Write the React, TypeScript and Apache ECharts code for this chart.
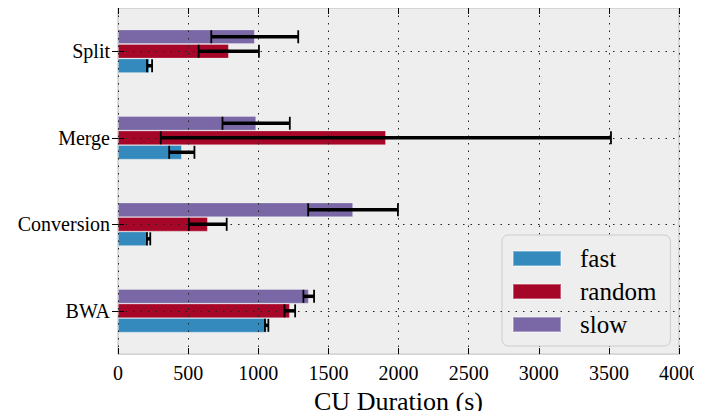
import React, { useEffect, useRef } from "react";
import * as echarts from "echarts";

const categories = ["BWA", "Conversion", "Merge", "Split"];
const seriesNames = ["fast", "random", "slow"];
const fastMean = [1060, 218, 455, 225];
const fastErr = [12, 12, 90, 18];
const randomMean = [1225, 640, 1910, 790];
const randomErr = [38, 135, 1605, 215];
const slowMean = [1360, 1676, 985, 975];
const slowErr = [38, 320, 240, 310];
const xTicks = [0, 500, 1000, 1500, 2000, 2500, 3000, 3500, 4000];

const colors = ["#348ABD", "#A60628", "#7A68A6"];
const FONT = "'Liberation Serif', 'Times New Roman', serif";
const BAR_W = 14.5;

export default function App() {
  const ref = useRef<HTMLDivElement>(null);
  useEffect(() => {
    if (!ref.current) return;
    const chart = echarts.init(ref.current, undefined, { renderer: "svg" });
    const means = [fastMean, randomMean, slowMean];
    const errs = [fastErr, randomErr, slowErr];

    // ECharts places the first bar series at the top of each band,
    // so add them in reverse order to put "fast" at the bottom.
    const barSeries = [2, 1, 0].map((s) => ({
      name: seriesNames[s],
      type: "bar",
      xAxisIndex: 0,
      yAxisIndex: 0,
      data: means[s],
      barWidth: BAR_W,
      barGap: "0%",
      itemStyle: { color: colors[s], borderColor: "rgba(255,255,255,0.35)", borderWidth: 0.8 },
      z: 2,
      ...(s === 1
        ? {
            markLine: {
              silent: true,
              symbol: "none",
              z: 5,
              label: { show: false },
              lineStyle: { color: "#222", width: 1, type: [1.5, 6] },
              data: categories.map((c) => ({ yAxis: c })),
            },
          }
        : {}),
    }));

    const errSeries = seriesNames.map((name, s) => ({
      name: name + "-err",
      type: "custom",
      xAxisIndex: 0,
      yAxisIndex: 0,
      z: 6,
      encode: { x: 1, y: 0 },
      data: categories.map((_, i) => [i, means[s][i], errs[s][i]]),
      renderItem: (params: any, api: any) => {
        const cat = api.value(0);
        const m = api.value(1);
        const e = api.value(2);
        const lo = api.coord([m - e, cat]);
        const hi = api.coord([m + e, cat]);
        const y = lo[1] + (1 - s) * BAR_W;
        const cap = 6.5;
        const st = { stroke: "#000", lineWidth: 3.5 };
        const cs = { stroke: "#000", lineWidth: 1.8 };
        return {
          type: "group",
          children: [
            { type: "line", shape: { x1: lo[0], y1: y, x2: hi[0], y2: y }, style: st },
            { type: "line", shape: { x1: lo[0], y1: y - cap, x2: lo[0], y2: y + cap }, style: cs },
            { type: "line", shape: { x1: hi[0], y1: y - cap, x2: hi[0], y2: y + cap }, style: cs },
          ],
        };
      },
    }));

    chart.setOption({
      animation: false,
      textStyle: { fontFamily: FONT },
      grid: {
        left: 118,
        top: 8,
        right: 21,
        bottom: 62,
        show: true,
        backgroundColor: "#eeeeee",
        borderColor: "#bcbcbc",
        borderWidth: 1,
      },
      legend: {
        data: seriesNames,
        orient: "vertical",
        left: 502,
        top: 235,
        itemWidth: 48,
        itemHeight: 15,
        itemGap: 8,
        padding: [11, 14, 9, 10],
        backgroundColor: "#eeeeee",
        borderColor: "#cccccc",
        borderWidth: 1,
        borderRadius: 6,
        textStyle: { fontFamily: FONT, fontSize: 25, color: "#000", padding: [0, 0, 0, 14] },
        icon: "rect",
      },
      xAxis: [
        {
          type: "value",
          min: 0,
          max: 4000,
          interval: 500,
          z: 3,
          name: "CU Duration (s)",
          nameLocation: "middle",
          nameGap: 30,
          nameTextStyle: { fontFamily: FONT, fontSize: 26, color: "#000" },
          axisLine: { show: false },
          axisTick: { show: true, inside: true, length: 6, lineStyle: { color: "#000" } },
          axisLabel: {
            fontFamily: FONT,
            fontSize: 20,
            color: "#000",
            margin: 9,
            formatter: (v: number) => (xTicks.includes(v) ? String(v) : ""),
          },
          splitLine: { show: true, lineStyle: { color: "#222", width: 1, type: [1.5, 6] } },
        },
        {
          type: "value",
          position: "top",
          min: 0,
          max: 4000,
          interval: 500,
          z: 3,
          axisLine: { show: false },
          axisTick: { show: true, inside: true, length: 6, lineStyle: { color: "#000" } },
          axisLabel: { show: false },
          splitLine: { show: false },
        },
      ],
      yAxis: [
        {
          type: "category",
          data: categories,
          z: 3,
          axisLine: { show: false },
          axisTick: { show: true, inside: true, length: 6, alignWithLabel: true, lineStyle: { color: "#000" } },
          axisLabel: { fontFamily: FONT, fontSize: 20, color: "#000", margin: 8 },
          splitLine: { show: false },
        },
        {
          type: "category",
          data: categories,
          position: "right",
          z: 3,
          axisLine: { show: false },
          axisTick: { show: true, inside: true, length: 6, alignWithLabel: true, lineStyle: { color: "#000" } },
          axisLabel: { show: false },
          splitLine: { show: false },
        },
      ],
      series: [...barSeries, ...errSeries],
    });
    return () => chart.dispose();
  }, []);
  return <div ref={ref} style={{ width: 702, height: 419, margin: -8 }} />;
}
